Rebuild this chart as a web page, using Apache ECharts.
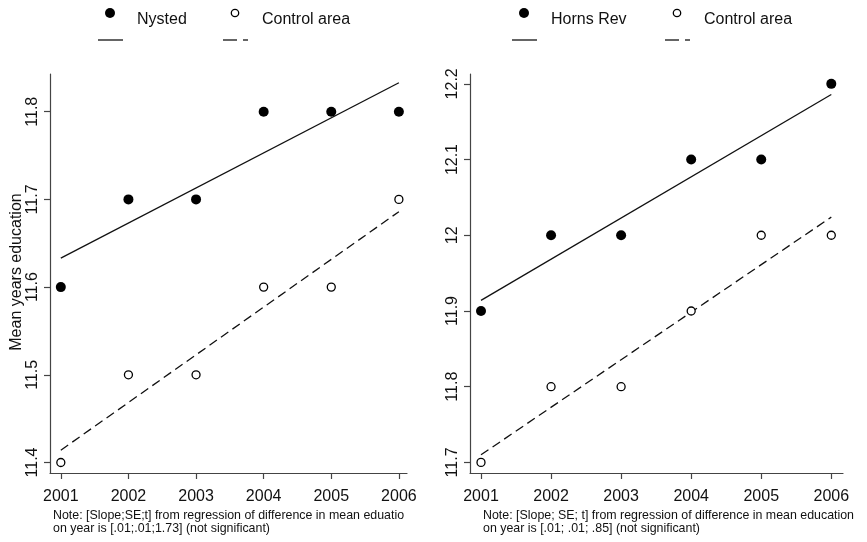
<!DOCTYPE html>
<html>
<head>
<meta charset="utf-8">
<script src="https://cdn.jsdelivr.net/npm/echarts@6/dist/echarts.min.js"></script>
<style>
  html, body { margin: 0; padding: 0; background: #fff; }
  #chart { width: 867px; height: 542px; }
</style>
</head>
<body>
<div id="chart"></div>
<script>
// Survey years shared by both panels
const years = [2001, 2002, 2003, 2004, 2005, 2006];

// Left panel: Nysted vs. its control area (mean years of education)
const nysted = [11.6, 11.7, 11.7, 11.8, 11.8, 11.8];
const nystedControl = [11.4, 11.5, 11.5, 11.6, 11.6, 11.7];
const nystedFit = [11.633, 11.833];         // fitted value at 2001 and 2006
const nystedControlFit = [11.414, 11.686];
const leftTicks = [11.4, 11.5, 11.6, 11.7, 11.8];

// Right panel: Horns Rev vs. its control area
const hornsRev = [11.9, 12.0, 12.0, 12.1, 12.1, 12.2];
const hornsControl = [11.7, 11.8, 11.8, 11.9, 12.0, 12.0];
const hornsFit = [11.914, 12.186];
const hornsControlFit = [11.710, 12.024];
const rightTicks = [11.7, 11.8, 11.9, 12.0, 12.1, 12.2];

const fitYears = [years[0], years[years.length - 1]];

const leftNote = ['Note: [Slope;SE;t] from regression of difference in mean eduation',
                  'on year is [.01;.01;1.73] (not significant)'];
const rightNote = ['Note: [Slope; SE; t] from regression of difference in mean education',
                   'on year is [.01; .01; .85] (not significant)'];

const FONT = '"Liberation Sans", Arial, Helvetica, sans-serif';
const INK = '#111';
const AXIS = '#444';

const pairs = (xs, ys) => xs.map((x, i) => [x, ys[i]]);

function xAxisFor(gridIndex, min, max) {
  return {
    type: 'value', gridIndex, min, max,
    axisLine: { show: true, lineStyle: { color: AXIS, width: 1.2 } },
    axisTick: { show: true, customValues: years, length: 6, lineStyle: { color: AXIS, width: 1.2 } },
    axisLabel: { customValues: years, formatter: v => String(v), color: INK,
                 fontFamily: FONT, fontSize: 16, margin: 16 },
    splitLine: { show: false }
  };
}

function yAxisFor(gridIndex, min, max, ticks) {
  return {
    type: 'value', gridIndex, min, max,
    axisLine: { show: true, lineStyle: { color: AXIS, width: 1.2 } },
    axisTick: { show: true, customValues: ticks, length: 6, lineStyle: { color: AXIS, width: 1.2 } },
    axisLabel: { customValues: ticks, formatter: v => String(+v.toFixed(1)), rotate: 90,
                 color: INK, fontFamily: FONT, fontSize: 16, margin: 9 },
    splitLine: { show: false }
  };
}

function panelSeries(idx, pts, ctrl, fit, ctrlFit) {
  return [
    { type: 'line', xAxisIndex: idx, yAxisIndex: idx, data: pairs(fitYears, fit),
      symbol: 'none', silent: true, lineStyle: { color: INK, width: 1.3 }, z: 2 },
    { type: 'line', xAxisIndex: idx, yAxisIndex: idx, data: pairs(fitYears, ctrlFit),
      symbol: 'none', silent: true, lineStyle: { color: INK, width: 1.3, type: [9, 5] }, z: 2 },
    { type: 'scatter', xAxisIndex: idx, yAxisIndex: idx, data: pairs(years, pts),
      symbol: 'circle', symbolSize: 10, itemStyle: { color: '#000', opacity: 1 }, z: 3 },
    { type: 'scatter', xAxisIndex: idx, yAxisIndex: idx, data: pairs(years, ctrl),
      symbol: 'circle', symbolSize: 8,
      itemStyle: { color: '#fff', borderColor: '#000', borderWidth: 1.3, opacity: 1 }, z: 3 }
  ];
}

// Legend block: markers on the first row, line samples below
function legendBlock(dotX, label, openX, lineX0, dashX0) {
  const txt = (x, t) => ({ type: 'text', x, y: 20,
    style: { text: t, font: '16px ' + FONT, fill: INK, verticalAlign: 'middle' } });
  const seg = (x1, x2, y) => ({ type: 'line', shape: { x1, y1: y, x2, y2: y },
    style: { stroke: INK, lineWidth: 1.3 } });
  return [
    { type: 'circle', shape: { cx: dotX, cy: 13, r: 5 }, style: { fill: '#000' } },
    txt(dotX + 27, label),
    { type: 'circle', shape: { cx: openX, cy: 13, r: 3.7 },
      style: { fill: '#fff', stroke: '#000', lineWidth: 1.3 } },
    txt(openX + 27, 'Control area'),
    seg(lineX0, lineX0 + 25, 40),
    seg(dashX0, dashX0 + 14, 40),
    seg(dashX0 + 20, dashX0 + 25, 40)
  ];
}

function noteBlock(x, lines, width) {
  return lines.map((t, i) => ({
    type: 'text', x, y: 510 + i * 13,
    style: { text: t, font: '12.4px ' + FONT, fill: INK, width, overflow: 'truncate', ellipsis: '' }
  }));
}

const chart = echarts.init(document.getElementById('chart'), null, { renderer: 'canvas' });
chart.setOption({
  animation: false,
  backgroundColor: '#fff',
  grid: [
    { left: 50, right: 460, top: 74, bottom: 69 },
    { left: 470, right: 24, top: 74, bottom: 69 }
  ],
  xAxis: [
    xAxisFor(0, 2000.84, 2006.12),
    xAxisFor(1, 2000.843, 2006.167)
  ],
  yAxis: [
    yAxisFor(0, 11.388, 11.843, leftTicks),
    yAxisFor(1, 11.686, 12.213, rightTicks)
  ],
  series: [
    ...panelSeries(0, nysted, nystedControl, nystedFit, nystedControlFit),
    ...panelSeries(1, hornsRev, hornsControl, hornsFit, hornsControlFit)
  ],
  graphic: [
    ...legendBlock(110, 'Nysted', 235, 98, 223),
    ...legendBlock(524, 'Horns Rev', 677, 512, 665),
    { type: 'text', x: 17, y: 272, rotation: Math.PI / 2,
      style: { text: 'Mean years education', font: '16px ' + FONT, fill: INK,
               align: 'center', verticalAlign: 'middle' } },
    ...noteBlock(53, leftNote, 355),
    ...noteBlock(483, rightNote, 384)
  ]
});
</script>
</body>
</html>
